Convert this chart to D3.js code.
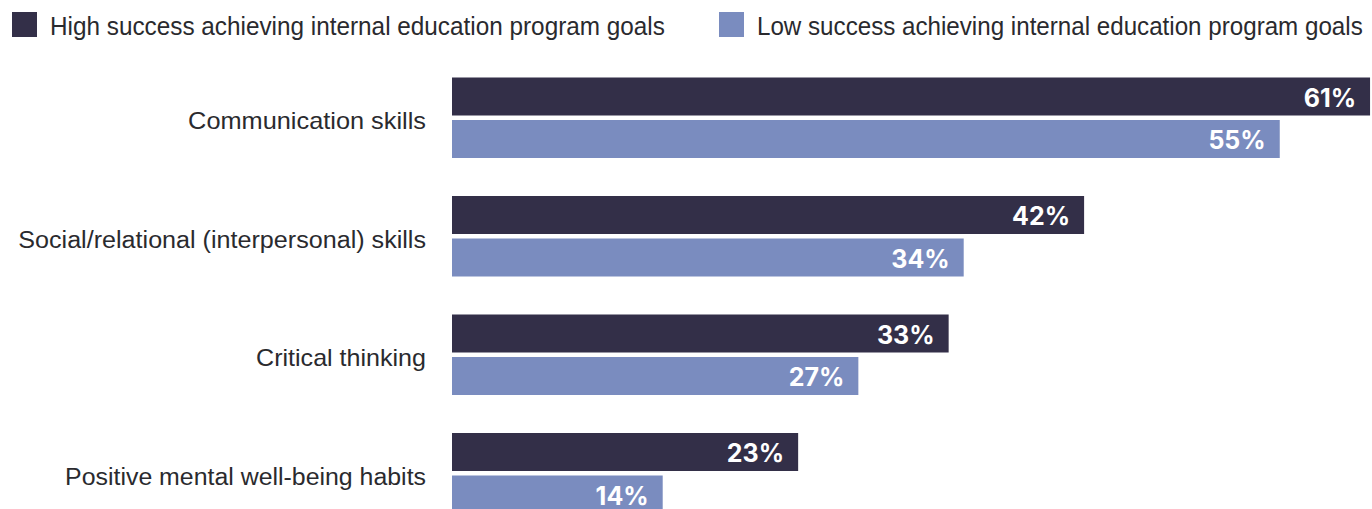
<!DOCTYPE html>
<html>
<head>
<meta charset="utf-8">
<script src="https://cdn.jsdelivr.net/npm/d3@7"></script>
<style>
  html, body { margin: 0; padding: 0; background: #ffffff; }
  svg { display: block; }
</style>
</head>
<body>
<svg id="chart" width="1372" height="509"></svg>
<script>
// Skills categories, top to bottom
const categories = [
  "Communication skills",
  "Social/relational (interpersonal) skills",
  "Critical thinking",
  "Positive mental well-being habits"
];
// Series keys and legend labels
const seriesKeys = ["high", "low"];
const seriesLabels = [
  "High success achieving internal education program goals",
  "Low success achieving internal education program goals"
];
// Percent of respondents per category
const highValues = [61, 42, 33, 23];
const lowValues = [55, 34, 27, 14];

const colors = { high: "#332f48", low: "#7a8cbf" };
const textColor = "#2a2a2e";

const rows = categories.map((c, i) => ({ category: c, high: highValues[i], low: lowValues[i] }));

const svg = d3.select("#chart");

// Squeeze or stretch a text horizontally so it spans the given width
function fitWidth(sel, widthOf, anchorX, anchorY) {
  sel.each(function (d, i) {
    const w = this.getComputedTextLength();
    const k = widthOf(d, i) / w;
    d3.select(this).attr("transform",
      `translate(${anchorX(d, i)},${anchorY(d, i)}) scale(${k},1)`);
  });
}

// Scales
const x = d3.scaleLinear().domain([0, 100]).range([452, 452 + 1505]);
const groupStep = 118.5, bandH = 80.5, plotTop = 77.5;
const y0 = d3.scaleBand()
  .domain(categories)
  .range([plotTop, plotTop + groupStep * (categories.length - 1) + bandH])
  .paddingInner((groupStep - bandH) / groupStep)
  .paddingOuter(0);
const y1 = d3.scaleBand()
  .domain(seriesKeys)
  .range([0, y0.bandwidth()])
  .paddingInner(4.5 / 42.5)
  .paddingOuter(0);

// Bars
const groups = svg.append("g").selectAll("g")
  .data(rows)
  .join("g")
  .attr("transform", d => `translate(0,${y0(d.category)})`);

groups.selectAll("rect")
  .data(d => seriesKeys.map(k => ({ key: k, value: d[k] })))
  .join("rect")
  .attr("x", x(0))
  .attr("y", d => y1(d.key))
  .attr("width", d => x(d.value) - x(0))
  .attr("height", y1.bandwidth())
  .attr("fill", d => colors[d.key]);

// Value labels inside bar ends
groups.selectAll("text.value")
  .data(d => seriesKeys.map(k => ({ key: k, value: d[k] })))
  .join("text")
  .attr("class", "value")
  .attr("x", d => x(d.value) - 14)
  .attr("y", d => y1(d.key) + y1.bandwidth() / 2 + 1)
  .attr("text-anchor", "end")
  .attr("dominant-baseline", "central")
  .attr("fill", "#ffffff")
  .style("font-family", "Inter, 'Open Sans', sans-serif")
  .style("font-weight", 700)
  .style("font-size", "25px")
  .text(d => d.value + "%");

// Category labels, right-aligned to the bars
const labelWidths = [238, 408, 170, 361];
svg.append("g").selectAll("text")
  .data(rows)
  .join("text")
  .attr("text-anchor", "end")
  .attr("dominant-baseline", "central")
  .attr("fill", textColor)
  .style("font-family", "'Liberation Sans', Arial, sans-serif")
  .style("font-size", "23px")
  .text(d => d.category)
  .call(fitWidth, (d, i) => labelWidths[i], () => 426,
        d => y0(d.category) + y0.bandwidth() / 2 + 3.5);

// Legend
const legendX = [12, 719];
const legendTextW = [615, 606];
const legend = svg.append("g").selectAll("g")
  .data(seriesKeys)
  .join("g")
  .attr("transform", (d, i) => `translate(${legendX[i]},12)`);
legend.append("rect")
  .attr("width", 25).attr("height", 25)
  .attr("fill", d => colors[d]);
legend.append("text")
  .attr("dominant-baseline", "central")
  .attr("fill", textColor)
  .style("font-family", "'Liberation Sans', Arial, sans-serif")
  .style("font-size", "25px")
  .text((d, i) => seriesLabels[i])
  .call(fitWidth, d => legendTextW[seriesKeys.indexOf(d)], () => 38, () => 14);
</script>
</body>
</html>
